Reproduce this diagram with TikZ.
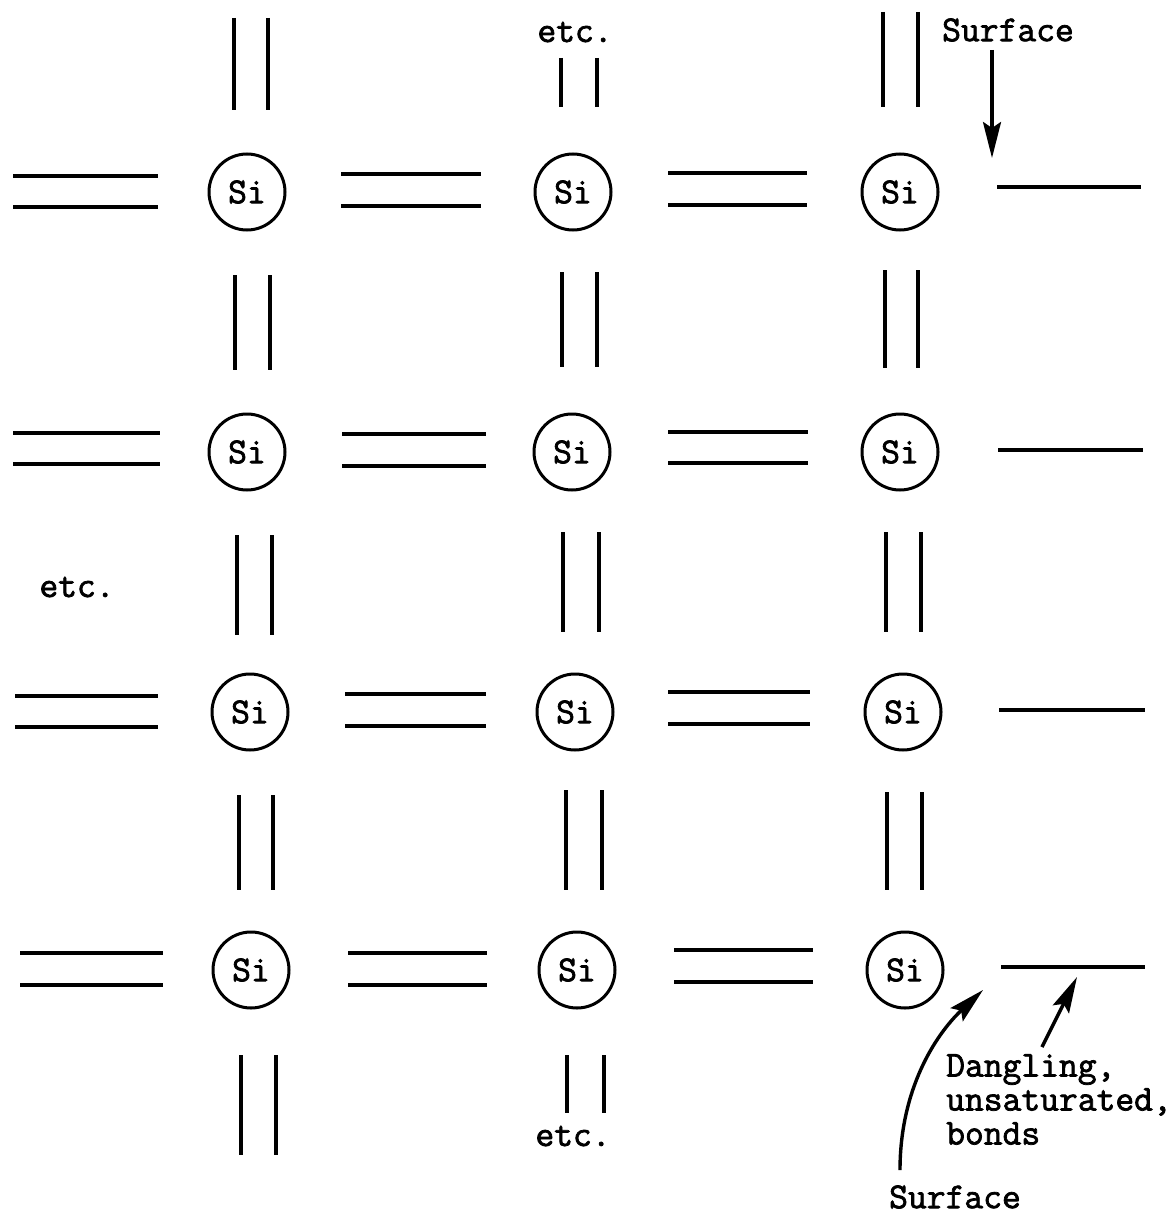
\documentclass[tikz,border=0pt]{standalone}
\usepackage{fontspec}
\setmonofont{Latin Modern Mono}[FakeBold=2]
\usetikzlibrary{arrows.meta}
\tikzset{
  atom/.style={circle,draw,line width=3pt,minimum size=76pt,inner sep=0pt,font=\ttfamily\fontsize{36.5}{38}\selectfont},
  bond/.style={line width=3.4pt},
  lbl/.style={inner sep=0pt,font=\ttfamily\fontsize{36.5}{38}\selectfont},
  pointer/.style={line width=3.4pt,-{Stealth[length=36pt,width=18pt,inset=6pt]}}
}
\newcommand\hbd[4]{\draw[bond] (#1,#3) -- (#2,#3); \draw[bond] (#1,#4) -- (#2,#4);}
\newcommand\vbd[4]{\draw[bond] (#1,#3) -- (#1,#4); \draw[bond] (#2,#3) -- (#2,#4);}
\begin{document}
\begin{tikzpicture}[x=1pt,y=-1pt]
\useasboundingbox (0,0) rectangle (1172,1215);
% atoms
\node[atom] (s11) at (247,192) {Si};
\node[atom] (s12) at (573,192) {Si};
\node[atom] (s13) at (900,192) {Si};
\node[atom] (s21) at (247,452) {Si};
\node[atom] (s22) at (572,452) {Si};
\node[atom] (s23) at (900,452) {Si};
\node[atom] (s31) at (250,712) {Si};
\node[atom] (s32) at (575,712) {Si};
\node[atom] (s33) at (903,712) {Si};
\node[atom] (s41) at (251,970) {Si};
\node[atom] (s42) at (577,970) {Si};
\node[atom] (s43) at (905,970) {Si};
% horizontal bonds
\hbd{13}{158}{176}{207} \hbd{341}{481}{174}{206} \hbd{668}{807}{173}{205}
\draw[bond] (997,187) -- (1141,187);
\hbd{13}{160}{433}{464} \hbd{342}{486}{434}{466} \hbd{668}{808}{432}{463}
\draw[bond] (998,450) -- (1143,450);
\hbd{15}{158}{696}{727} \hbd{345}{486}{694}{726} \hbd{668}{810}{692}{724}
\draw[bond] (999,710) -- (1145,710);
\hbd{20}{163}{953}{985} \hbd{348}{487}{953}{985} \hbd{674}{813}{950}{982}
\draw[bond] (1001,967) -- (1145,967);
% vertical bonds
\vbd{234}{268}{18}{110} \vbd{235}{270}{275}{370} \vbd{237}{272}{535}{635}
\vbd{239}{273}{795}{890} \vbd{241}{276}{1055}{1155}
\vbd{561}{597}{58}{107} \vbd{562}{597}{272}{367} \vbd{563}{599}{532}{632}
\vbd{566}{602}{790}{890} \vbd{567}{604}{1055}{1113}
\vbd{883}{918}{12}{107} \vbd{885}{918}{270}{368} \vbd{886}{921}{532}{632}
\vbd{887}{922}{792}{890}
% labels
\node[lbl] (etcTop) at (575,32) {etc.};
\node[lbl] (etcLeft) at (77,587) {etc.};
\node[lbl] (etcBot) at (573,1136) {etc.};
\node[lbl] (surfTop) at (1008,30) {Surface};
\node[lbl] (surfBot) at (955,1197) {Surface};
\node[lbl,anchor=north west,align=left,font=\ttfamily\fontsize{36.5}{34}\selectfont] (dang) at (946,1054) {Dangling,\\unsaturated,\\bonds};
% arrows
\coordinate (tTop) at (992,158);
\coordinate (tSurf) at (983,990);
\coordinate (tDang) at (1077,977);
\draw[pointer] (992,50) -- (tTop);
\draw[pointer] (900,1170) .. controls (900,1090) and (935,1035) .. (tSurf);
\draw[pointer] (1042,1047) -- (tDang);
\end{tikzpicture}
\end{document}
